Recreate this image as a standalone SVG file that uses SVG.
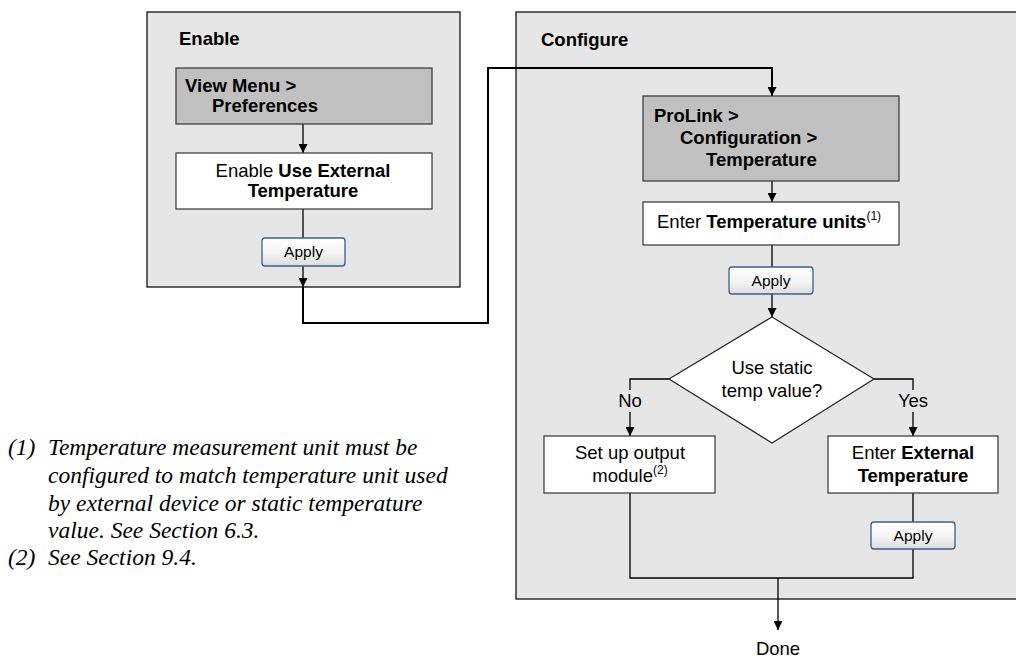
<svg xmlns="http://www.w3.org/2000/svg" width="1016" height="657" viewBox="0 0 1016 657">
<defs>
<linearGradient id="btn" x1="0" y1="0" x2="0" y2="1">
<stop offset="0" stop-color="#ffffff"/>
<stop offset="0.55" stop-color="#f4f4f4"/>
<stop offset="1" stop-color="#dcdcdc"/>
</linearGradient>
<marker id="arr" viewBox="0 0 10 10" refX="10" refY="5" markerWidth="9" markerHeight="9" markerUnits="userSpaceOnUse" orient="auto">
<path d="M0,0 L10,5 L0,10 z" fill="#000"/>
</marker>
</defs>
<style>
.panel{fill:#e6e6e6;stroke:#111;stroke-width:1.3}
.grey{fill:#c0c0c0;stroke:#333;stroke-width:1.2}
.white{fill:#fff;stroke:#333;stroke-width:1.2}
.btn{fill:url(#btn);stroke:#3f5f8e;stroke-width:1.3}
.dia{fill:#fff;stroke:#222;stroke-width:1.2}
text{font-family:"Liberation Sans",Arial,sans-serif;font-size:18.5px;fill:#000}
.b{font-weight:bold}
.bt{font-size:15.5px}
.sup{font-size:12px}
.fn{font-family:"Liberation Serif","Times New Roman",serif;font-style:italic;font-size:23.5px}
.c{fill:none;stroke:#000;stroke-width:1.3}
.cw{fill:none;stroke:#000;stroke-width:2}
</style>
<rect width="1016" height="657" fill="#fff"/>

<g id="panel-enable">
<rect class="panel" x="147" y="12" width="313" height="275"/>
<text class="b" x="179" y="45">Enable</text>
</g>
<g id="panel-configure">
<rect class="panel" x="516" y="12" width="520" height="587"/>
<text class="b" x="541" y="46">Configure</text>
</g>

<g id="connectors">
<path class="c" d="M303,124 V153" marker-end="url(#arr)"/>
<path class="c" d="M303,209 V238"/>
<path class="c" d="M303,266 V287" marker-end="url(#arr)"/>
<path class="cw" d="M303,287 V323 H488 V68 H772 V96" marker-end="url(#arr)"/>
<path class="c" d="M772,181 V202" marker-end="url(#arr)"/>
<path class="c" d="M772,245 V267"/>
<path class="c" d="M772,294 V317" marker-end="url(#arr)"/>
<path class="c" d="M669,379 H630 V390"/>
<path class="c" d="M630,412 V436" marker-end="url(#arr)"/>
<path class="c" d="M874,379 H913 V390"/>
<path class="c" d="M913,412 V436" marker-end="url(#arr)"/>
<path class="c" d="M913,493 V522"/>
<path class="c" d="M630,493 V578 H913 V549"/>
<path class="c" d="M778,578 V630" marker-end="url(#arr)"/>
<text x="630" y="407" text-anchor="middle">No</text>
<text x="913" y="407" text-anchor="middle">Yes</text>
</g>

<g id="node-viewmenu">
<rect class="grey" x="176" y="68" width="256" height="56"/>
<text class="b" x="185" y="92">View Menu &gt;</text>
<text class="b" x="212" y="112">Preferences</text>
</g>
<g id="node-enable-ext">
<rect class="white" x="176" y="153" width="256" height="56"/>
<text x="303" y="177" text-anchor="middle">Enable <tspan class="b">Use External</tspan></text>
<text class="b" x="303" y="197" text-anchor="middle">Temperature</text>
</g>
<g id="node-apply1">
<rect class="btn" x="262" y="238" width="83" height="28" rx="3"/>
<text class="bt" x="303.5" y="257" text-anchor="middle">Apply</text>
</g>

<g id="node-prolink">
<rect class="grey" x="643" y="96" width="256" height="85"/>
<text class="b" x="654" y="122">ProLink &gt;</text>
<text class="b" x="680" y="144">Configuration &gt;</text>
<text class="b" x="706" y="166">Temperature</text>
</g>
<g id="node-units">
<rect class="white" x="643" y="202" width="256" height="43"/>
<text x="657" y="228">Enter <tspan class="b">Temperature units</tspan><tspan class="sup" dy="-8">(1)</tspan></text>
</g>
<g id="node-apply2">
<rect class="btn" x="729" y="267" width="84" height="27" rx="3"/>
<text class="bt" x="771" y="286" text-anchor="middle">Apply</text>
</g>
<g id="node-decision">
<polygon class="dia" points="772,317 874,379 772,443 669,379"/>
<text x="772" y="374" text-anchor="middle">Use static</text>
<text x="772" y="397" text-anchor="middle">temp value?</text>
</g>
<g id="node-output">
<rect class="white" x="544" y="436" width="171" height="57"/>
<text x="630" y="459" text-anchor="middle">Set up output</text>
<text x="630" y="482" text-anchor="middle">module<tspan class="sup" dy="-8">(2)</tspan></text>
</g>
<g id="node-ext">
<rect class="white" x="828" y="436" width="170" height="57"/>
<text x="913" y="459" text-anchor="middle">Enter <tspan class="b">External</tspan></text>
<text class="b" x="913" y="482" text-anchor="middle">Temperature</text>
</g>
<g id="node-apply3">
<rect class="btn" x="871" y="522" width="84" height="27" rx="3"/>
<text class="bt" x="913" y="541" text-anchor="middle">Apply</text>
</g>
<g id="node-done">
<text x="778" y="655" text-anchor="middle">Done</text>
</g>

<g id="footnotes">
<text class="fn" x="8" y="455">(1)</text>
<text class="fn" x="48" y="455">Temperature measurement unit must be</text>
<text class="fn" x="48" y="483">configured to match temperature unit used</text>
<text class="fn" x="48" y="511">by external device or static temperature</text>
<text class="fn" x="48" y="538">value. See Section 6.3.</text>
<text class="fn" x="8" y="565">(2)</text>
<text class="fn" x="48" y="565">See Section 9.4.</text>
</g>
</svg>
